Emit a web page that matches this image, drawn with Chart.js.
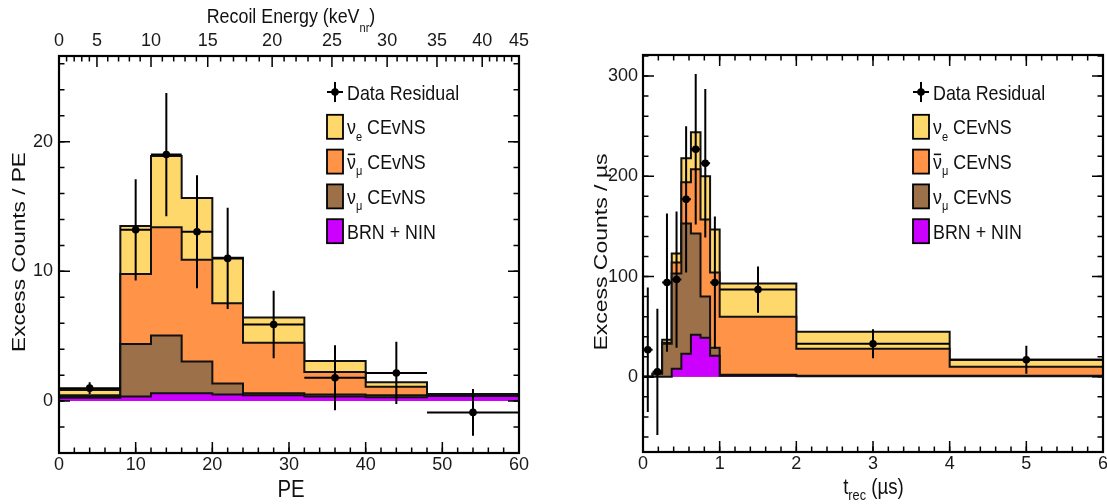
<!DOCTYPE html>
<html>
<head>
<meta charset="utf-8">
<title>CEvNS excess residuals</title>
<script src="https://cdn.jsdelivr.net/npm/chart.js@4.4.1/dist/chart.umd.min.js"></script>
<style>
  html, body { margin: 0; padding: 0; background: #fff; }
  body { position: relative; width: 1107px; height: 504px; overflow: hidden; }
  canvas { position: absolute; top: 0; }
  #peChart { left: 0; }
  #tChart { left: 560px; }
</style>
</head>
<body>
<canvas id="peChart" width="545" height="504"></canvas>
<canvas id="tChart" width="547" height="504"></canvas>
<script>
// --- PE spectrum (left panel) ---
const peEdges = [0, 8, 12, 16, 20, 24, 32, 40, 48, 60];
const peBrnNin = [0.25, 0.35, 0.6, 0.6, 0.5, 0.45, 0.35, 0.3, 0.4];
const peNuMu = [0.15, 4.05, 4.45, 2.45, 0.85, 0.15, 0.15, 0.15, 0.05];
const peNuMuBar = [0.05, 5.4, 8.35, 7.85, 6.2, 3.9, 1.75, 0.65, 0.05];
const peNuE = [0.4, 3.7, 5.5, 4.75, 3.5, 1.95, 0.85, 0.35, 0.05];
const peDataX = [4, 10, 14, 18, 22, 28, 36, 44, 54];
const peDataY = [1.0, 13.2, 19.0, 13.05, 11.0, 5.9, 1.8, 2.17, -0.87];
const peDataErr = [0.45, 3.9, 4.75, 4.35, 3.9, 2.6, 2.5, 2.4, 1.8];
const peTicksX = [0, 10, 20, 30, 40, 50, 60];
const peTicksY = [0, 10, 20];
// top axis: recoil energy labels and where they sit on the PE scale
const energyTicks = [0, 5, 10, 15, 20, 25, 30, 35, 40, 45];
const energyTickPE = [0, 4.95, 12.0, 19.4, 27.8, 35.6, 42.8, 49.3, 55.2, 60];

// --- time spectrum (right panel) ---
const tEdges = [0, 0.125, 0.25, 0.375, 0.5, 0.625, 0.75, 0.875, 1, 2, 4, 6];
const tBrnNin = [0, 0, 0, 8, 23, 42, 39, 21, 1, 0.5, 0.5];
const tNuMu = [0, 3, 33, 95, 130, 101, 41, 8, 1, 0.5, 0.5];
const tNuMuBar = [0, 0, 1, 11, 41, 64, 77, 75, 58, 27, 9];
const tNuE = [0, 0, 3, 9, 24, 37, 43, 43, 33, 17, 7];
const tDataX = [0.0625, 0.1875, 0.3125, 0.4375, 0.5625, 0.6875, 0.8125, 0.9375, 1.5, 3, 5];
const tDataY = [27, 5, 94, 97, 177, 227, 213, 94, 87, 33, 17];
const tDataErr = [62, 63, 69, 68, 73, 75, 74, 66, 23, 14.5, 14];
const tTicksX = [0, 1, 2, 3, 4, 5, 6];
const tTicksY = [0, 100, 200, 300];

// legend rows: [text, style] runs, style '' | 'sub' | 'bar'
const legendRows = [
    [['Data Residual', '']],
    [['ν', ''], ['e', 'sub'], [' CEvNS', '']],
    [['ν', 'bar'], ['μ', 'sub'], [' CEvNS', '']],
    [['ν', ''], ['μ', 'sub'], [' CEvNS', '']],
    [['BRN + NIN', '']]
];

const COLORS = { nuE: '#FFD86B', nuMuBar: '#FF9448', nuMu: '#9C7049', brn: '#CC00FF', ink: '#111' };
const legendFills = [null, COLORS.nuE, COLORS.nuMuBar, COLORS.nuMu, COLORS.brn];
const FONT = "'Liberation Sans', Arial, sans-serif";
const TICK_FONT = { family: "'Liberation Sans Narrow', 'Liberation Sans', Arial, sans-serif", size: 18 };

// ---------- helpers ----------
function runningTotals(layers) {
    let run = layers[0].map(() => 0);
    return layers.map(l => (run = run.map((v, i) => v + l[i])));
}

function stepPoints(edges, vals) {
    const pts = vals.map((v, i) => ({ x: edges[i], y: v }));
    pts.push({ x: edges[edges.length - 1], y: vals[vals.length - 1] });
    return pts;
}

function halfWidths(edges) {
    return edges.slice(1).map((e, i) => (e - edges[i]) / 2);
}

// tick mark positions only
function range(from, to, step) {
    const out = [];
    for (let v = from; v <= to + 1e-9; v += step) out.push(+v.toFixed(6));
    return out;
}

function makeDatasets(edges, brn, nuMu, nuMuBar, nuE, dataX, dataY, dataErr) {
    const [topBrn, topNuMu, topNuMuBar, topNuE] = runningTotals([brn, nuMu, nuMuBar, nuE]);
    const hist = (label, vals, color, order) => ({
        label, data: stepPoints(edges, vals), stepped: 'before', fill: 'origin',
        backgroundColor: color, borderColor: COLORS.ink, borderWidth: 2, pointRadius: 0, order
    });
    return [
        {
            label: 'Data Residual', data: dataX.map((x, i) => ({ x, y: dataY[i] })), showLine: false,
            pointRadius: 3.8, pointBackgroundColor: '#000', pointBorderWidth: 0, order: 0,
            errY: dataErr, errX: halfWidths(edges)
        },
        hist('BRN + NIN', topBrn, COLORS.brn, 1),
        hist('νμ CEvNS', topNuMu, COLORS.nuMu, 2),
        hist('ν̄μ CEvNS', topNuMuBar, COLORS.nuMuBar, 3),
        hist('νe CEvNS', topNuE, COLORS.nuE, 4)
    ];
}

// text with sub-scripts / over-bars, optionally rotated, squeezed like the scan
function richText(ctx, t) {
    const subSize = t.subSize || Math.round(t.size * 0.62);
    ctx.save();
    ctx.translate(t.x, t.y);
    if (t.rotate) ctx.rotate(-Math.PI / 2);
    ctx.scale(t.sx || 1, 1);
    ctx.fillStyle = COLORS.ink;
    ctx.textBaseline = 'alphabetic';
    ctx.textAlign = 'left';
    const fontOf = r => `${r[1] === 'sub' ? subSize : t.size}px ${FONT}`;
    const widths = t.runs.map(r => { ctx.font = fontOf(r); return ctx.measureText(r[0]).width; });
    const total = widths.reduce((s, w) => s + w, 0);
    let cx = t.align === 'center' ? -total / 2 : 0;
    t.runs.forEach((r, i) => {
        ctx.font = fontOf(r);
        const dy = r[1] === 'sub' ? (t.subDrop || t.size * 0.3) : 0;
        ctx.fillText(r[0], cx, dy);
        if (r[1] === 'bar') ctx.fillRect(cx + 1, -t.size * 0.74, widths[i] - 2, 1.6);
        cx += widths[i];
    });
    ctx.restore();
}

function drawTicks(ctx, a, scale, values, len, sides) {
    ctx.beginPath();
    values.forEach(v => {
        const p = scale.getPixelForValue(v);
        if (scale.isHorizontal()) {
            if (p < a.left - 0.5 || p > a.right + 0.5) return;
            if (sides.includes('bottom')) { ctx.moveTo(p, a.bottom); ctx.lineTo(p, a.bottom - len); }
            if (sides.includes('top')) { ctx.moveTo(p, a.top); ctx.lineTo(p, a.top + len); }
        } else {
            if (p < a.top - 0.5 || p > a.bottom + 0.5) return;
            if (sides.includes('left')) { ctx.moveTo(a.left, p); ctx.lineTo(a.left + len, p); }
            if (sides.includes('right')) { ctx.moveTo(a.right, p); ctx.lineTo(a.right - len, p); }
        }
    });
    ctx.stroke();
}

function drawLegend(ctx, lg) {
    legendRows.forEach((runs, i) => {
        const cy = lg.y + i * lg.dy;
        ctx.strokeStyle = '#000';
        ctx.fillStyle = '#000';
        if (i === 0) {
            const mx = lg.x + 8;
            ctx.lineWidth = 2;
            ctx.beginPath();
            ctx.moveTo(mx, cy - 10); ctx.lineTo(mx, cy + 10);
            ctx.moveTo(mx - 8, cy); ctx.lineTo(mx + 8, cy);
            ctx.stroke();
            ctx.beginPath(); ctx.arc(mx, cy, 3.8, 0, Math.PI * 2); ctx.fill();
        } else {
            ctx.lineWidth = 1.8;
            ctx.fillStyle = legendFills[i];
            ctx.fillRect(lg.x, cy - 12, 16, 24);
            ctx.strokeRect(lg.x, cy - 12, 16, 24);
        }
        richText(ctx, { x: lg.x + 20, y: cy + 7.5, runs, size: 21, sx: 0.85 });
    });
}

function makeDecor(cfg) {
    return {
        id: 'decor',
        afterDatasetsDraw(chart) {
            const { ctx, chartArea: a, scales: { x, y } } = chart;
            const ds = chart.data.datasets[0];
            ctx.save();
            ctx.beginPath();
            ctx.rect(a.left, a.top, a.right - a.left, a.bottom - a.top);
            ctx.clip();
            ctx.strokeStyle = '#000';
            ctx.lineWidth = 2;
            ctx.beginPath();
            ds.data.forEach((p, i) => {
                const px = x.getPixelForValue(p.x), py = y.getPixelForValue(p.y);
                ctx.moveTo(px, y.getPixelForValue(p.y - ds.errY[i]));
                ctx.lineTo(px, y.getPixelForValue(p.y + ds.errY[i]));
                ctx.moveTo(x.getPixelForValue(p.x - ds.errX[i]), py);
                ctx.lineTo(x.getPixelForValue(p.x + ds.errX[i]), py);
            });
            ctx.stroke();
            ctx.restore();
        },
        afterDraw(chart) {
            const { ctx, chartArea: a } = chart;
            ctx.save();
            ctx.strokeStyle = '#000';
            ctx.lineWidth = 1.5;
            cfg.ticks.forEach(t => drawTicks(ctx, a, chart.scales[t.scale], t.values, t.len, t.sides));
            ctx.lineWidth = 2.2;
            ctx.strokeRect(a.left, a.top, a.right - a.left, a.bottom - a.top);
            drawLegend(ctx, cfg.legend);
            cfg.titles.forEach(tt => richText(ctx, tt));
            ctx.restore();
        }
    };
}

const fixSize = (prop, v) => s => {
    s[prop] = v;
    s.paddingLeft = s.paddingRight = s.paddingTop = s.paddingBottom = 0;
};
const fixTicks = values => s => { s.ticks = values.map(v => ({ value: v })); };

const axisBase = {
    type: 'linear',
    grid: { display: false, drawTicks: false },
    border: { display: false }
};
const tickBase = { color: '#1a1a1a', font: TICK_FONT, maxRotation: 0, autoSkip: false };

// ---------- left: PE ----------
const energyMinorPE = [];
energyTickPE.slice(0, -1).forEach((p, k) => {
    for (let j = 1; j < 5; j++) energyMinorPE.push(p + (energyTickPE[k + 1] - p) * j / 5);
});

new Chart(document.getElementById('peChart'), {
    type: 'line',
    data: { datasets: makeDatasets(peEdges, peBrnNin, peNuMu, peNuMuBar, peNuE, peDataX, peDataY, peDataErr) },
    options: {
        responsive: false, animation: false, events: [],
        layout: { padding: { left: 0, right: 26, top: 0, bottom: 0 } },
        plugins: { legend: { display: false }, tooltip: { enabled: false } },
        scales: {
            x: { ...axisBase, position: 'bottom', min: 0, max: 60, afterBuildTicks: fixTicks(peTicksX),
                 ticks: { ...tickBase, padding: 1 }, afterFit: fixSize('height', 51) },
            xTop: { ...axisBase, position: 'top', min: 0, max: 60, afterBuildTicks: fixTicks(energyTickPE),
                    ticks: { ...tickBase, padding: 4, callback: (v, i) => energyTicks[i] },
                    afterFit: fixSize('height', 56) },
            y: { ...axisBase, min: -4, max: 26.6, afterBuildTicks: fixTicks(peTicksY),
                 ticks: { ...tickBase, padding: 6 }, afterFit: fixSize('width', 59) }
        }
    },
    plugins: [makeDecor({
        ticks: [
            { scale: 'x', values: peTicksX, len: 11, sides: ['bottom'] },
            { scale: 'x', values: range(0, 60, 2), len: 5.5, sides: ['bottom'] },
            { scale: 'xTop', values: energyTickPE, len: 11, sides: ['top'] },
            { scale: 'xTop', values: energyMinorPE, len: 5.5, sides: ['top'] },
            { scale: 'y', values: peTicksY, len: 11, sides: ['left', 'right'] },
            { scale: 'y', values: range(-4, 26, 2), len: 5.5, sides: ['left', 'right'] }
        ],
        legend: { x: 327, y: 92, dy: 34.8 },
        titles: [
            { x: 291, y: 497, runs: [['PE', '']], size: 24, sx: 0.85, align: 'center' },
            { x: 291, y: 22.5, runs: [['Recoil Energy (keV', ''], ['nr', 'sub'], [')', '']],
              size: 21, sx: 0.85, align: 'center', subSize: 13, subDrop: 9 },
            { x: 25, y: 252, rotate: true, runs: [['Excess Counts / PE', '']], size: 19, sx: 1.19, align: 'center' }
        ]
    })]
});

// ---------- right: t_rec ----------
new Chart(document.getElementById('tChart'), {
    type: 'line',
    data: { datasets: makeDatasets(tEdges, tBrnNin, tNuMu, tNuMuBar, tNuE, tDataX, tDataY, tDataErr) },
    options: {
        responsive: false, animation: false, events: [],
        layout: { padding: { left: 0, right: 3, top: 55, bottom: 0 } },
        plugins: { legend: { display: false }, tooltip: { enabled: false } },
        scales: {
            x: { ...axisBase, position: 'bottom', min: 0, max: 6, afterBuildTicks: fixTicks(tTicksX),
                 ticks: { ...tickBase, padding: 1 }, afterFit: fixSize('height', 52) },
            y: { ...axisBase, min: -75, max: 321, afterBuildTicks: fixTicks(tTicksY),
                 ticks: { ...tickBase, padding: 5 }, afterFit: fixSize('width', 83) }
        }
    },
    plugins: [makeDecor({
        ticks: [
            { scale: 'x', values: tTicksX, len: 11, sides: ['bottom', 'top'] },
            { scale: 'x', values: range(0, 6, 0.2), len: 5.5, sides: ['bottom', 'top'] },
            { scale: 'y', values: tTicksY, len: 11, sides: ['left', 'right'] },
            { scale: 'y', values: range(-60, 320, 20), len: 5.5, sides: ['left', 'right'] }
        ],
        legend: { x: 353, y: 92, dy: 34.8 },
        titles: [
            { x: 313.5, y: 494, runs: [['t', ''], ['rec', 'sub'], [' (µs)', '']],
              size: 22, sx: 0.85, align: 'center', subSize: 15, subDrop: 6 },
            { x: 47, y: 252, rotate: true, runs: [['Excess Counts / µs', '']], size: 19, sx: 1.21, align: 'center' }
        ]
    })]
});
</script>
</body>
</html>
